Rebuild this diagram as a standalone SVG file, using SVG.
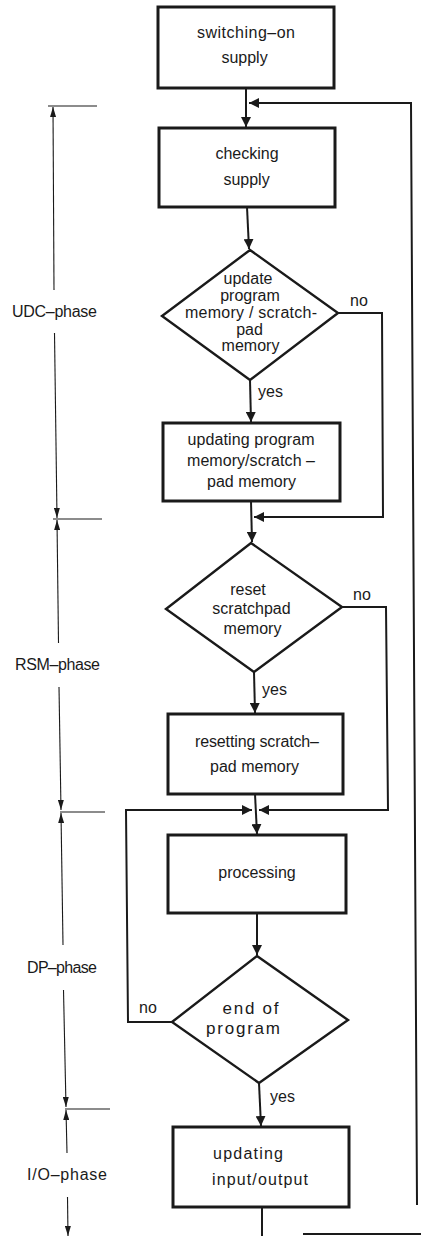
<svg xmlns="http://www.w3.org/2000/svg" width="421" height="1236" viewBox="0 0 421 1236">
<style>
.box{fill:#fff;stroke:#1a1a1a;stroke-width:3}
.dia{fill:#fff;stroke:#1a1a1a;stroke-width:2.4}
.t{font-family:"Liberation Sans",Arial,sans-serif;font-size:16px;fill:#1a1a1a;text-anchor:middle}
.l{font-family:"Liberation Sans",Arial,sans-serif;font-size:16px;fill:#1a1a1a}
.c{fill:none;stroke:#1a1a1a;stroke-width:2}
.p{fill:none;stroke:#1a1a1a;stroke-width:1.1}
</style>
<defs>
<marker id="ah" markerUnits="userSpaceOnUse" markerWidth="10" markerHeight="10" refX="10" refY="5" orient="auto"><path d="M0,0 L10,5 L0,10 z" fill="#1a1a1a"/></marker>
<marker id="ph" markerUnits="userSpaceOnUse" markerWidth="10" markerHeight="6" refX="10" refY="3" orient="auto-start-reverse"><path d="M0,0 L10,3 L0,6 z" fill="#1a1a1a"/></marker>
</defs>

<g id="connectors">
<path class="c" d="M246,88 L246,127" marker-end="url(#ah)"/>
<path class="c" d="M417,1205 L411,103 L249,103" marker-end="url(#ah)"/>
<path class="c" d="M247,207 L249,249" marker-end="url(#ah)"/>
<path class="c" d="M250,380 L251,422" marker-end="url(#ah)"/>
<path class="c" d="M338,313 L382,313 L383,517 L254,517" marker-end="url(#ah)"/>
<path class="c" d="M251,501 L252,542" marker-end="url(#ah)"/>
<path class="c" d="M254,672 L255,713" marker-end="url(#ah)"/>
<path class="c" d="M342,607 L386,607 L388,810 L259,810" marker-end="url(#ah)"/>
<path class="c" d="M255,794 L257,834" marker-end="url(#ah)"/>
<path class="c" d="M172,1022 L128,1022 L126,810 L252,810" marker-end="url(#ah)"/>
<path class="c" d="M257,913 L257,955" marker-end="url(#ah)"/>
<path class="c" d="M259,1083 L261,1126" marker-end="url(#ah)"/>
<path class="c" d="M262,1207 L262,1236"/>
<path class="c" d="M303,1234 L421,1234"/>
</g>

<g id="phases">
<path class="p" d="M48,106 L97,106"/>
<path class="p" d="M53,107 L54,290" marker-start="url(#ph)"/>
<path class="p" d="M54.5,333 L57,518" marker-end="url(#ph)"/>
<text class="l" x="12" y="317" textLength="85" lengthAdjust="spacing">UDC–phase</text>
<path class="p" d="M53,519 L102,519"/>
<path class="p" d="M57,520 L58.5,643" marker-start="url(#ph)"/>
<path class="p" d="M59,687 L61,810" marker-end="url(#ph)"/>
<text class="l" x="15" y="670" textLength="85" lengthAdjust="spacing">RSM–phase</text>
<path class="p" d="M60,812 L105,812"/>
<path class="p" d="M61,813 L63,945" marker-start="url(#ph)"/>
<path class="p" d="M63.5,990 L66,1107" marker-end="url(#ph)"/>
<text class="l" x="27" y="973" textLength="70" lengthAdjust="spacing">DP–phase</text>
<path class="p" d="M65,1109 L110,1109"/>
<path class="p" d="M66,1110 L67,1153" marker-start="url(#ph)"/>
<path class="p" d="M67.5,1197 L68,1236" marker-end="url(#ph)"/>
<text class="l" x="27" y="1180" textLength="80" lengthAdjust="spacing">I/O–phase</text>
</g>

<g id="n1">
<rect class="box" x="158" y="7" width="176" height="81"/>
<text class="t" x="246" y="38" textLength="98" lengthAdjust="spacing">switching–on</text>
<text class="t" x="244.5" y="63">supply</text>
</g>

<g id="n2">
<rect class="box" x="159" y="128" width="176" height="79"/>
<text class="t" x="247" y="159">checking</text>
<text class="t" x="246.5" y="185">supply</text>
</g>

<g id="d1">
<polygon class="dia" points="250,250 338,313 250,380 162,316"/>
<text class="t" x="248" y="284">update</text>
<text class="t" x="250" y="301">program</text>
<text class="t" x="251" y="318" textLength="132" lengthAdjust="spacing">memory / scratch-</text>
<text class="t" x="249.5" y="335">pad</text>
<text class="t" x="250.5" y="351">memory</text>
<text class="l" x="350" y="306">no</text>
<text class="l" x="258" y="397">yes</text>
</g>

<g id="n3">
<rect class="box" x="163" y="423" width="177" height="78"/>
<text class="t" x="251" y="445" textLength="127" lengthAdjust="spacing">updating program</text>
<text class="t" x="251" y="466" textLength="128" lengthAdjust="spacing">memory/scratch –</text>
<text class="t" x="251.5" y="487">pad memory</text>
</g>

<g id="d2">
<polygon class="dia" points="251,543 342,607 254,672 166,609"/>
<text class="t" x="248" y="595">reset</text>
<text class="t" x="251.5" y="614">scratchpad</text>
<text class="t" x="252.5" y="634">memory</text>
<text class="l" x="353" y="600">no</text>
<text class="l" x="262" y="695">yes</text>
</g>

<g id="n4">
<rect class="box" x="168" y="714" width="175" height="80"/>
<text class="t" x="257" y="747" textLength="124" lengthAdjust="spacing">resetting scratch–</text>
<text class="t" x="254.5" y="772">pad memory</text>
</g>

<g id="n5">
<rect class="box" x="168" y="835" width="178" height="78"/>
<text class="t" x="257" y="878">processing</text>
</g>

<g id="d3">
<polygon class="dia" points="257,956 348,1020 259,1083 172,1022"/>
<text class="t" x="250.5" y="1014" style="font-size:17px" textLength="56" lengthAdjust="spacing">end of</text>
<text class="t" x="243" y="1034" style="font-size:17px" textLength="74" lengthAdjust="spacing">program</text>
<text class="l" x="139" y="1013">no</text>
<text class="l" x="270" y="1102">yes</text>
</g>

<g id="n6">
<rect class="box" x="173" y="1127" width="176" height="80"/>
<text class="t" x="248" y="1159" textLength="70" lengthAdjust="spacing">updating</text>
<text class="t" x="260" y="1185" textLength="96" lengthAdjust="spacing">input/output</text>
</g>
</svg>
